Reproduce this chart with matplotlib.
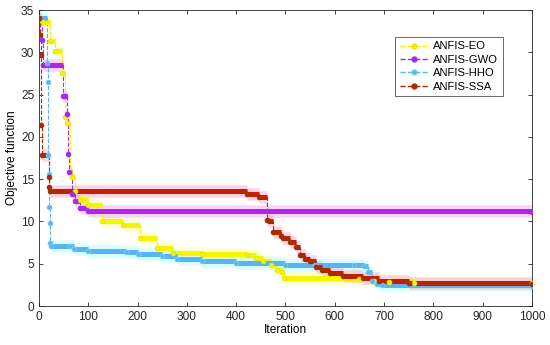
import matplotlib
matplotlib.use('Agg')
from matplotlib import pyplot as plt
from matplotlib.lines import Line2D

plt.rcParams['font.family'] = ['Liberation Sans', 'DejaVu Sans']

# convergence curves (iteration, objective value at breakpoints)
eo_iter = [0, 9, 22, 32, 46, 53, 56, 62, 66, 72, 83, 100, 127, 171, 205, 239, 272, 330,
           421, 440, 455, 470, 482, 492, 497, 650, 680, 710, 760, 1000]
eo_val = [34.0, 33.6, 31.3, 30.2, 27.5, 22.3, 21.6, 15.8, 15.2, 13.6, 12.5, 12.0, 10.0, 9.6,
          8.0, 6.9, 6.3, 6.2, 6.0, 5.7, 5.3, 4.8, 4.3, 4.0, 3.3, 3.2, 3.0, 2.85, 2.75, 2.7]

gwo_iter = [0, 5, 9, 49, 52, 56, 58, 61, 66, 72, 83, 100, 1000]
gwo_val = [34.0, 31.5, 28.5, 24.8, 24.8, 22.7, 18.0, 15.8, 13.2, 12.4, 11.6, 11.2, 11.1]

hho_iter = [0, 16, 18, 19, 20, 21, 22, 23, 25, 62, 70, 100, 177, 200, 250, 280, 330, 400,
            500, 560, 640, 660, 668, 675, 685, 695, 1000]
hho_val = [34.0, 28.7, 26.5, 17.8, 15.6, 11.7, 9.8, 7.5, 7.1, 7.1, 6.7, 6.5, 6.4, 6.2, 5.9,
           5.6, 5.3, 5.1, 4.9, 4.85, 4.8, 4.75, 4.0, 3.0, 2.55, 2.45, 2.4]

ssa_iter = [0, 2, 3, 4, 5, 20, 21, 22, 421, 447, 462, 466, 475, 490, 496, 509, 522, 529,
            540, 550, 563, 575, 590, 617, 657, 690, 750, 1000]
ssa_val = [34.0, 32.0, 29.7, 21.4, 17.8, 15.3, 14.1, 13.6, 13.3, 12.9, 10.2, 10.1, 8.7, 8.3,
           8.0, 7.6, 7.0, 6.0, 5.6, 5.3, 4.6, 4.2, 3.85, 3.6, 3.3, 2.9, 2.7, 2.65]

names = ['ANFIS-EO', 'ANFIS-GWO', 'ANFIS-HHO', 'ANFIS-SSA']
curves = [(eo_iter, eo_val), (gwo_iter, gwo_val), (hho_iter, hho_val), (ssa_iter, ssa_val)]
line_colors = ['#F5F500', '#B026E6', '#5AB4F0', '#C02200']
marker_colors = ['#E8E800', '#9A30F0', '#6FC8F5', '#8B3A00']
halo_colors = ['#FFFF90', '#FF9CF5', '#A8FFFF', '#FF9CC8']

fig = plt.figure(figsize=(5.5, 3.45), dpi=100)
ax = fig.add_axes([0.071, 0.113, 0.896, 0.858])

for (xs, ys), lc, mc, hc in zip(curves, line_colors, marker_colors, halo_colors):
    # soft halo under the flat runs
    ax.hlines(ys[:-1], xs[:-1], xs[1:], colors=hc, linewidth=9, alpha=0.45, zorder=1)
    # dashed steps between points
    ax.plot(xs, ys, drawstyle='steps-post', linestyle='--', color=lc, linewidth=0.8, zorder=2)
    # flat runs look solid because of dense markers
    ax.hlines(ys[:-1], xs[:-1], xs[1:], colors=lc, linewidth=3.6, zorder=3)
    ax.plot(xs, ys, linestyle='none', marker='o', markersize=3.2, markerfacecolor=lc,
            markeredgecolor=mc, markeredgewidth=0.8, zorder=4)

ax.set_xlim(0, 1000)
ax.set_ylim(0, 35)
ax.set_xticks(range(0, 1001, 100))
ax.set_yticks(range(0, 36, 5))
ax.tick_params(direction='in', top=True, right=True, labelsize=8.6, length=3,
               colors='#262626', width=0.6)
for sp in ax.spines.values():
    sp.set_color('#262626')
    sp.set_linewidth(0.6)
ax.set_xlabel('Iteration', fontsize=8.6, labelpad=1)
ax.set_ylabel('Objective function', fontsize=8.6, labelpad=2)

handles = [Line2D([], [], linestyle='--', color=lc, marker='o', markersize=3.5,
                  markerfacecolor=lc, markeredgecolor=mc, linewidth=1)
           for lc, mc in zip(line_colors, marker_colors)]
leg = ax.legend(handles, names, loc='upper right', bbox_to_anchor=(0.941, 0.909),
                borderaxespad=0, fontsize=8.1, frameon=True, fancybox=False,
                handlelength=2.6, borderpad=0.4, labelspacing=0.3, handletextpad=0.4)
leg.get_frame().set_edgecolor('#262626')
leg.get_frame().set_linewidth(0.6)

fig.savefig('out.png', dpi=100)
